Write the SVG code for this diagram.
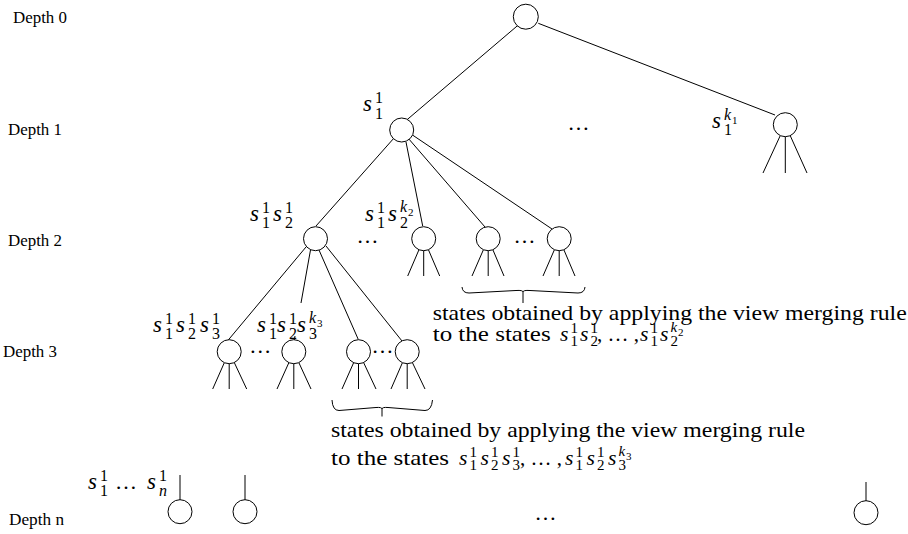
<svg xmlns="http://www.w3.org/2000/svg" width="908" height="534" viewBox="0 0 908 534">
<style>
text{fill:#000;font-family:"Liberation Serif","Times New Roman",serif}
.d{font-size:17px}
.t{font-size:21px}
.m{font-size:23px;font-style:italic}
.m2{font-size:21.6px;font-style:italic}
.sc{font-size:16px}
.sci{font-size:16px;font-style:italic}
.sc2{font-size:15px}
.sci2{font-size:15px;font-style:italic}
.ss{font-size:11px}
.el{font-size:22px}
.e line,.e path{stroke:#000;stroke-width:1;fill:none}
.n circle{fill:#fff;stroke:#000;stroke-width:1}
</style>

<g id="depth-labels">
<text class="d" x="13" y="23" textLength="54" lengthAdjust="spacingAndGlyphs">Depth 0</text>
<text class="d" x="8" y="135" textLength="54" lengthAdjust="spacingAndGlyphs">Depth 1</text>
<text class="d" x="8" y="246" textLength="54" lengthAdjust="spacingAndGlyphs">Depth 2</text>
<text class="d" x="3" y="357" textLength="54" lengthAdjust="spacingAndGlyphs">Depth 3</text>
<text class="d" x="9" y="525" textLength="55" lengthAdjust="spacingAndGlyphs">Depth n</text>
</g>

<g id="connectors" class="e">
<line x1="518.3" y1="25" x2="406.7" y2="120"/>
<line x1="538.3" y1="23.3" x2="775" y2="115"/>
<line x1="785.3" y1="124.7" x2="763" y2="173"/>
<line x1="785.3" y1="124.7" x2="785.3" y2="173"/>
<line x1="785.3" y1="124.7" x2="807" y2="173"/>
<line x1="395.8" y1="136" x2="316" y2="226"/>
<line x1="406" y1="142" x2="422.7" y2="226"/>
<line x1="408" y1="138" x2="485" y2="227"/>
<line x1="411" y1="134" x2="552" y2="229"/>
<line x1="423.7" y1="238.7" x2="407.7" y2="276"/>
<line x1="423.7" y1="238.7" x2="423.7" y2="276"/>
<line x1="423.7" y1="238.7" x2="439.7" y2="276"/>
<line x1="488.2" y1="238.7" x2="472" y2="276"/>
<line x1="488.2" y1="238.7" x2="488.2" y2="276"/>
<line x1="488.2" y1="238.7" x2="504" y2="276"/>
<line x1="559.2" y1="238.7" x2="543" y2="276"/>
<line x1="559.2" y1="238.7" x2="559.2" y2="276"/>
<line x1="559.2" y1="238.7" x2="575" y2="276"/>
<line x1="306" y1="247" x2="228.3" y2="340"/>
<line x1="310.5" y1="250" x2="301" y2="303"/>
<line x1="295" y1="336" x2="294.3" y2="340"/>
<line x1="319" y1="250" x2="358.3" y2="339.5"/>
<line x1="326" y1="246" x2="402" y2="341"/>
<line x1="229.2" y1="351.7" x2="212.7" y2="389"/>
<line x1="229.2" y1="351.7" x2="229.2" y2="389"/>
<line x1="229.2" y1="351.7" x2="246.7" y2="389"/>
<line x1="293.8" y1="351.7" x2="277" y2="389"/>
<line x1="293.8" y1="351.7" x2="293.8" y2="389"/>
<line x1="293.8" y1="351.7" x2="311" y2="389"/>
<line x1="358.5" y1="351.7" x2="342" y2="389"/>
<line x1="358.5" y1="351.7" x2="358.5" y2="389"/>
<line x1="358.5" y1="351.7" x2="376" y2="389"/>
<line x1="407.2" y1="351.7" x2="391" y2="389"/>
<line x1="407.2" y1="351.7" x2="407.2" y2="389"/>
<line x1="407.2" y1="351.7" x2="425" y2="389"/>
<line x1="180" y1="475" x2="180" y2="500"/>
<line x1="245" y1="475" x2="245" y2="500"/>
<line x1="866" y1="482" x2="866" y2="501"/>
<path d="M462,287 Q462.5,293 469,293 L516,290.5 Q523,290 523,292 L523,303 M523,292 Q523,290 530,290.5 L578,293 Q584.5,293 585,287"/>
<path d="M332,400 Q332.5,410.5 339,410.5 L376,407.5 Q382,407 382,409 L382,416.5 M382,409 Q382,407 388,407.5 L425,410.5 Q431.5,410.5 432.5,400"/>
</g>

<g id="nodes" class="n">
<g id="root"><circle cx="525.8" cy="16.7" r="12.5"/></g>
<g id="d1-first"><circle cx="401.7" cy="130" r="12"/></g>
<g id="d1-last"><circle cx="785.3" cy="124.7" r="12"/></g>
<g id="d2-a"><circle cx="315.5" cy="238.7" r="12"/></g>
<g id="d2-b"><circle cx="423.7" cy="238.7" r="12"/></g>
<g id="d2-c"><circle cx="488.2" cy="238.7" r="12"/></g>
<g id="d2-d"><circle cx="559.2" cy="238.7" r="12"/></g>
<g id="d3-a"><circle cx="229.2" cy="351.7" r="12"/></g>
<g id="d3-b"><circle cx="293.8" cy="351.7" r="12"/></g>
<g id="d3-c"><circle cx="358.5" cy="351.7" r="12"/></g>
<g id="d3-d"><circle cx="407.2" cy="351.7" r="12"/></g>
<g id="dn-a"><circle cx="180" cy="511.7" r="12"/></g>
<g id="dn-b"><circle cx="245" cy="511.7" r="12"/></g>
<g id="dn-c"><circle cx="866" cy="512.7" r="12"/></g>
</g>

<g id="ellipses">
<text class="el" x="578.5" y="130" text-anchor="middle">…</text>
<text class="el" x="367.5" y="243" text-anchor="middle">…</text>
<text class="el" x="524.5" y="243" text-anchor="middle">…</text>
<text class="el" x="260.3" y="353" text-anchor="middle">…</text>
<text class="el" x="382.5" y="353" text-anchor="middle">…</text>
<text class="el" x="545.5" y="519.5" text-anchor="middle">…</text>
</g>

<g id="labels">
<text><tspan class="m" x="363" y="111">s</tspan><tspan class="sc" x="375" y="103">1</tspan><tspan class="sc" x="375" y="119">1</tspan></text>

<text><tspan class="m" x="712" y="128">s</tspan><tspan class="sc" x="724" y="135">1</tspan><tspan class="sci" x="724" y="120">k</tspan><tspan class="ss" x="732" y="124">1</tspan></text>

<text><tspan class="m" x="250" y="221">s</tspan><tspan class="sc" x="262" y="213">1</tspan><tspan class="sc" x="262" y="228">1</tspan><tspan class="m" x="273" y="221">s</tspan><tspan class="sc" x="285" y="213">1</tspan><tspan class="sc" x="285" y="228">2</tspan></text>

<text><tspan class="m" x="365" y="221">s</tspan><tspan class="sc" x="377" y="213">1</tspan><tspan class="sc" x="377" y="228">1</tspan><tspan class="m" x="388" y="221">s</tspan><tspan class="sc" x="400" y="228">2</tspan><tspan class="sci" x="400" y="212">k</tspan><tspan class="ss" x="408" y="216">2</tspan></text>

<text><tspan class="m" x="153" y="332">s</tspan><tspan class="sc" x="165" y="324">1</tspan><tspan class="sc" x="165" y="339">1</tspan><tspan class="m" x="176" y="332">s</tspan><tspan class="sc" x="188" y="324">1</tspan><tspan class="sc" x="188" y="339">2</tspan><tspan class="m" x="200" y="332">s</tspan><tspan class="sc" x="212" y="324">1</tspan><tspan class="sc" x="212" y="339">3</tspan></text>

<text><tspan class="m" x="257" y="332">s</tspan><tspan class="sc" x="269" y="324">1</tspan><tspan class="sc" x="269" y="339">1</tspan><tspan class="m" x="277" y="332">s</tspan><tspan class="sc" x="289" y="324">1</tspan><tspan class="sc" x="289" y="339">2</tspan><tspan class="m" x="297" y="332">s</tspan><tspan class="sc" x="309" y="339">3</tspan><tspan class="sci" x="309" y="323">k</tspan><tspan class="ss" x="317" y="327">3</tspan></text>

<text><tspan class="m" x="88" y="489">s</tspan><tspan class="sc" x="100" y="481">1</tspan><tspan class="sc" x="100" y="496">1</tspan><tspan class="el" x="115" y="489">…</tspan><tspan class="m" x="147" y="489">s</tspan><tspan class="sc" x="159" y="481">1</tspan><tspan class="sci" x="159" y="496">n</tspan></text>
</g>

<g id="note-depth2">
<text class="t" x="432.7" y="320" textLength="474" lengthAdjust="spacingAndGlyphs">states obtained by applying the view merging rule</text>
<text><tspan class="t" x="432.7" y="341" textLength="118" lengthAdjust="spacingAndGlyphs">to the states</tspan><tspan class="m2" x="560" y="341">s</tspan><tspan class="sc2" x="570.5" y="333">1</tspan><tspan class="sc2" x="570.5" y="346">1</tspan><tspan class="m2" x="580" y="341">s</tspan><tspan class="sc2" x="590.5" y="333">1</tspan><tspan class="sc2" x="590.5" y="346">2</tspan><tspan class="t" x="597" y="341">, … ,</tspan><tspan class="m2" x="640" y="341">s</tspan><tspan class="sc2" x="650.5" y="333">1</tspan><tspan class="sc2" x="650.5" y="346">1</tspan><tspan class="m2" x="660" y="341">s</tspan><tspan class="sc2" x="670.5" y="346">2</tspan><tspan class="sci2" x="670.5" y="332">k</tspan><tspan class="ss" x="678" y="336">2</tspan></text>
</g>

<g id="note-depth3">
<text class="t" x="331" y="437" textLength="474" lengthAdjust="spacingAndGlyphs">states obtained by applying the view merging rule</text>
<text><tspan class="t" x="331" y="465" textLength="118" lengthAdjust="spacingAndGlyphs">to the states</tspan><tspan class="m2" x="459" y="465">s</tspan><tspan class="sc2" x="469.5" y="457">1</tspan><tspan class="sc2" x="469.5" y="470">1</tspan><tspan class="m2" x="480.5" y="465">s</tspan><tspan class="sc2" x="491" y="457">1</tspan><tspan class="sc2" x="491" y="470">2</tspan><tspan class="m2" x="502" y="465">s</tspan><tspan class="sc2" x="512.5" y="457">1</tspan><tspan class="sc2" x="512.5" y="470">3</tspan><tspan class="t" x="520" y="465">, … ,</tspan><tspan class="m2" x="565" y="465">s</tspan><tspan class="sc2" x="575.5" y="457">1</tspan><tspan class="sc2" x="575.5" y="470">1</tspan><tspan class="m2" x="586.5" y="465">s</tspan><tspan class="sc2" x="597" y="457">1</tspan><tspan class="sc2" x="597" y="470">2</tspan><tspan class="m2" x="608" y="465">s</tspan><tspan class="sc2" x="618.5" y="470">3</tspan><tspan class="sci2" x="618.5" y="456">k</tspan><tspan class="ss" x="626" y="460">3</tspan></text>
</g>
</svg>
